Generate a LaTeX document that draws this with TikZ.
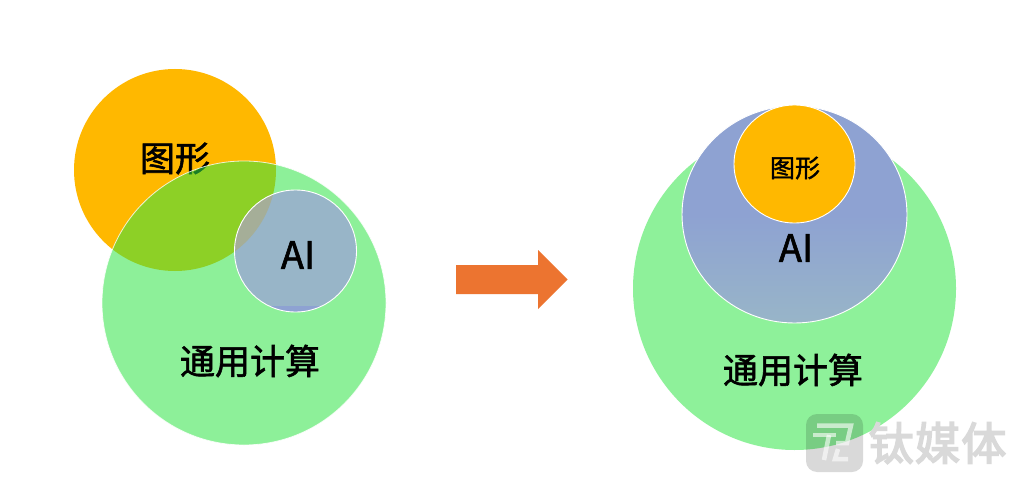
\documentclass[tikz,border=0pt]{standalone}
\usepackage{fontspec}
\setmainfont{Noto Sans CJK SC}[FakeBold=1.6]
\newfontfamily\wmfont{Noto Sans CJK SC}[FakeBold=3.5,LetterSpace=3]
\definecolor{orangefill}{HTML}{FFB800}
\definecolor{greenbase}{RGB}{49,229,70}
\definecolor{greensolid}{HTML}{8EF19A}
\definecolor{aitop}{HTML}{8EA2D2}
\definecolor{aibot}{HTML}{98B5C8}
\definecolor{aimix}{HTML}{A5AE98}
\definecolor{arrowfill}{HTML}{EC7430}
\definecolor{wm}{HTML}{D9D9D9}
\tikzset{
  x=1pt,y=-1pt,
  ring/.style={draw=white,line width=0.9pt},
  lbl/.style={inner sep=0pt,text=black},
  big/.style={lbl,font=\fontsize{35}{35}\selectfont},
  latin/.style={lbl,font=\fontsize{38}{38}\selectfont},
  small/.style={lbl,font=\fontsize{25}{25}\selectfont},
  wmtext/.style={inner sep=0pt,text=wm,font=\wmfont\fontsize{45}{45}\selectfont},
  wmglyph/.style={draw=white,draw opacity=.6,line width=4.5pt,line cap=butt,line join=miter},
}
\begin{document}
\begin{tikzpicture}
\useasboundingbox (0,0) rectangle (1024,489);
\fill[white] (0,0) rectangle (1024,489);
% left group
\fill[orangefill] (175,170) circle (101);
\node[big] (gfL) at (175,158.5) {图形};
\fill[greenbase,fill opacity=.55] (244,303) circle (142);
\draw[white,line width=0.8pt,opacity=.8] (244,303) circle (142);
\begin{scope}
  \clip (295.5,251) circle (61);
  \fill[aibot] (234,190) rectangle (357,306);
  \fill[aitop] (234,306) rectangle (357,313);
  \begin{scope}
    \clip (175,170) circle (101);
    \fill[aimix] (230,180) rectangle (290,270);
  \end{scope}
\end{scope}
\draw[ring] (295.5,251) circle (61);
\node[latin] (aiL) at (298,255) {AI};
\node[big] (tyL) at (250,361) {通用计算};
% arrow
\fill[arrowfill] (456,265) -- (538,265) -- (538,250) -- (567.5,279.5) -- (538,309) -- (538,294) -- (456,294) -- cycle;
% right group
\fill[greensolid] (794.5,288.5) circle (161.5);
\shade[top color=aitop,bottom color=aibot,middle color=aitop] (794.5,214.5) ellipse [x radius=112.5,y radius=108.5];
\draw[ring] (794.5,214.5) ellipse [x radius=112.5,y radius=108.5];
\fill[orangefill] (794.5,164) ellipse [x radius=60.5,y radius=59];
\draw[ring] (794.5,164) ellipse [x radius=60.5,y radius=59];
\node[small] (gfR) at (795,168) {图形};
\node[latin] (aiR) at (796,248) {AI};
\node[big] (tyR) at (793,370) {通用计算};
% watermark
\fill[black,opacity=.15,rounded corners=11pt] (806,414) rectangle (863,472);
\draw[wmglyph] (817,425.5) -- (851,425.5) -- (847,443) -- (836,443);
\draw[wmglyph] (813,435) -- (836,435);
\draw[wmglyph] (829,435) -- (824,460);
\draw[wmglyph] (838,449) -- (835,459) -- (848,459);
\node[wmtext] (wmk) at (937.5,443) {钛媒体};
\end{tikzpicture}
\end{document}
